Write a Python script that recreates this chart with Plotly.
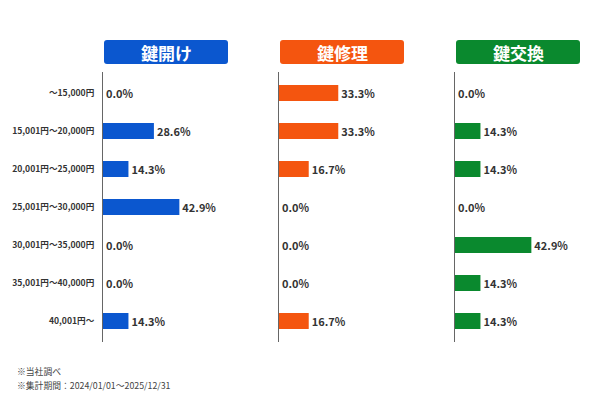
import plotly.graph_objects as go

categories = ["～15,000円", "15,001円～20,000円", "20,001円～25,000円", "25,001円～30,000円",
              "30,001円～35,000円", "35,001円～40,000円", "40,001円～"]
panel_titles = ["鍵開け", "鍵修理", "鍵交換"]
values_unlock = [0.0, 28.6, 14.3, 42.9, 0.0, 0.0, 14.3]
values_repair = [33.3, 33.3, 16.7, 0.0, 0.0, 0.0, 16.7]
values_replace = [0.0, 14.3, 14.3, 0.0, 42.9, 14.3, 14.3]
colors = ["#0b57cf", "#f4550f", "#0a892e"]
notes = ["※当社調べ", "※集計期間：2024/01/01～2025/12/31"]

W, H = 600, 400
series = [values_unlock, values_repair, values_replace]
axis_left_px = [103, 279, 455]
panel_w = 140
px_per_pct = 1.78
y_top, y_bot = 72, 342
n = len(categories)
row_px = 38
extra = ((y_bot - y_top) / row_px - n) / 2

fig = go.Figure()
font_family = "Noto Sans CJK JP"
for i, (vals, col) in enumerate(zip(series, colors)):
    xa = "x" if i == 0 else f"x{i+1}"
    ya = "y" if i == 0 else f"y{i+1}"
    fig.add_trace(go.Bar(
        x=vals, y=categories, orientation="h", marker=dict(color=col, line=dict(width=0)),
        text=[f"{v:.1f}%" for v in vals], textposition="outside", cliponaxis=False,
        textfont=dict(size=11, color="#333333", family=font_family, weight="bold"),
        xaxis=xa, yaxis=ya, width=0.42, showlegend=False, hoverinfo="skip",
    ))
    x0 = axis_left_px[i] / W
    x1 = (axis_left_px[i] + panel_w) / W
    xkey = "xaxis" if i == 0 else f"xaxis{i+1}"
    ykey = "yaxis" if i == 0 else f"yaxis{i+1}"
    fig.layout[xkey] = dict(domain=[x0, x1], range=[0, panel_w / px_per_pct], visible=False,
                            anchor=ya, fixedrange=True)
    fig.layout[ykey] = dict(domain=[1 - y_bot / H, 1 - y_top / H], anchor=xa,
                            type="category", categoryarray=categories,
                            range=[n - 0.5 + extra, -0.5 - extra],
                            showline=True, linecolor="#666666", linewidth=1,
                            showgrid=False, zeroline=False, ticks="",
                            showticklabels=(i == 0), ticklabelstandoff=6,
                            tickfont=dict(size=8.6, color="#333333", family=font_family, weight="bold"))
    # title box
    bx0, bx1 = (axis_left_px[i] + 1) / W, (axis_left_px[i] + 125) / W
    by0, by1 = 1 - 64 / H, 1 - 40 / H
    r = 3
    rx, ry = r / W, r / H
    path = (f"M {bx0+rx},{by0} L {bx1-rx},{by0} Q {bx1},{by0} {bx1},{by0+ry} "
            f"L {bx1},{by1-ry} Q {bx1},{by1} {bx1-rx},{by1} L {bx0+rx},{by1} "
            f"Q {bx0},{by1} {bx0},{by1-ry} L {bx0},{by0+ry} Q {bx0},{by0} {bx0+rx},{by0} Z")
    fig.add_shape(type="path", path=path, xref="paper", yref="paper",
                  fillcolor=col, line=dict(width=0), layer="below")
    fig.add_annotation(text=panel_titles[i], x=(bx0 + bx1) / 2, y=(by0 + by1) / 2,
                       xref="paper", yref="paper", showarrow=False,
                       xanchor="center", yanchor="middle",
                       font=dict(size=17, color="white", family=font_family, weight="bold"))

for j, note in enumerate(notes):
    fig.add_annotation(text=note, x=15 / W, y=1 - (371 + 14 * j) / H, xref="paper", yref="paper",
                       xanchor="left", yanchor="middle", showarrow=False,
                       font=dict(size=8.8, color="#444444", family=font_family))

fig.update_layout(width=W, height=H, margin=dict(l=0, r=0, t=0, b=0),
                  plot_bgcolor="white", paper_bgcolor="white",
                  font=dict(family=font_family), bargap=0.58)
fig.write_html("out.html")
